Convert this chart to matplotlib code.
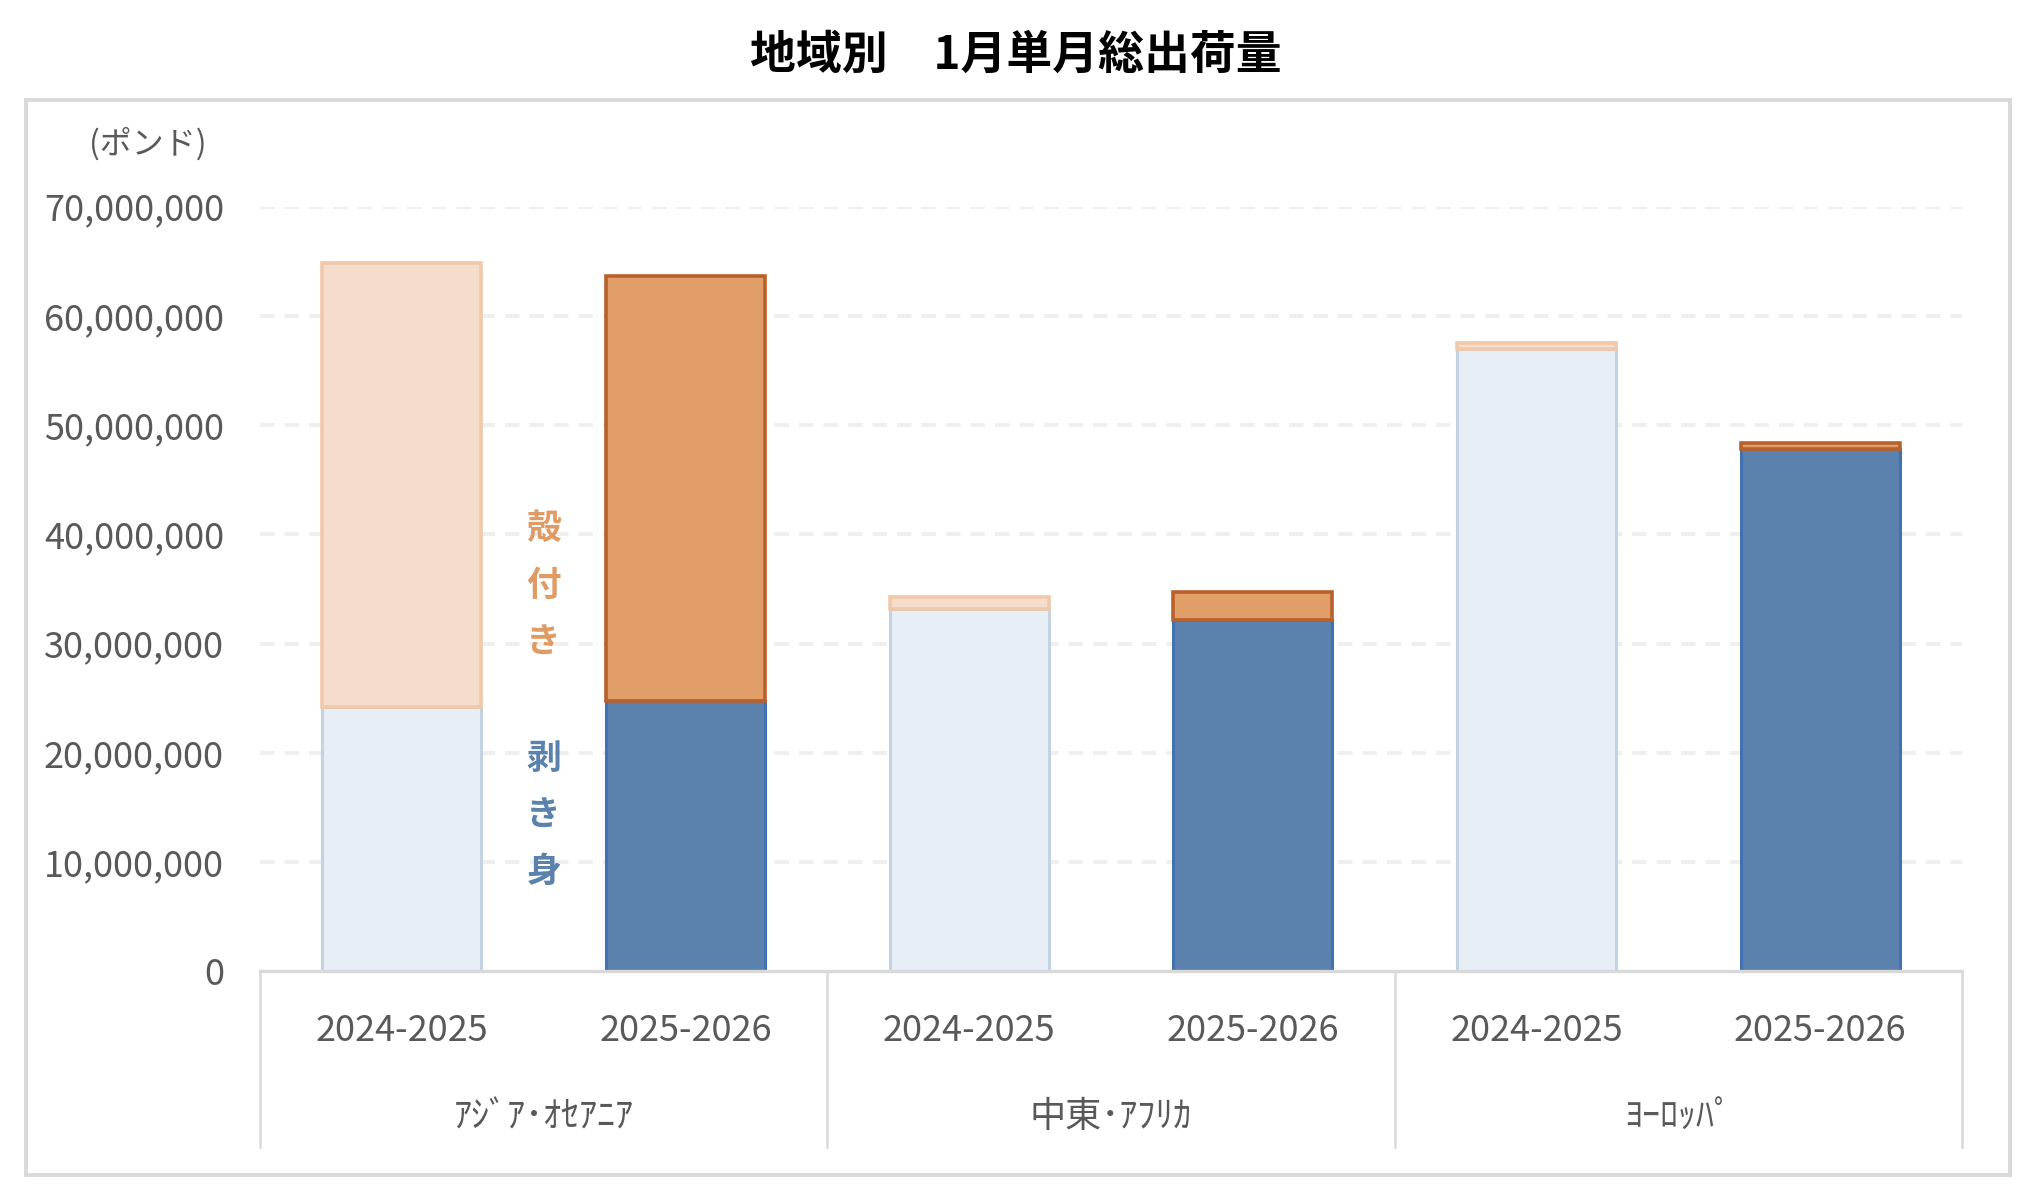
import numpy as np
import matplotlib
matplotlib.use("Agg")
import matplotlib.pyplot as plt
from matplotlib.patches import Rectangle
import matplotlib.transforms as mtransforms

plt.rcParams['font.family'] = ['Noto Sans CJK JP', 'DejaVu Sans']

# DATA (pounds)
regions = ['ｱｼﾞｱ･ｵｾｱﾆｱ', '中東･ｱﾌﾘｶ', 'ﾖｰﾛｯﾊﾟ']
seasons = ['2024-2025', '2025-2026']
fillet = [24200000, 24700000, 33200000, 32200000, 57000000, 47800000]   # 剥き身
shell = [40600000, 38900000, 1050000, 2550000, 500000, 600000]          # 殻付き
yticks = [0, 10000000, 20000000, 30000000, 40000000, 50000000, 60000000, 70000000]

# colours: light = last season, dark = this season
fillet_face = ['#e8eef5', '#5b81ad']
fillet_edge = ['#c4d3e1', '#4372b0']
shell_face = ['#f6dccb', '#e19e69']
shell_edge = ['#f0c9aa', '#b8612a']

fig = plt.figure(figsize=(20.36, 11.98), dpi=100)
ax = fig.add_axes([0.1277, 0.1892, 0.836, 0.6384])

x = np.arange(len(fillet))
season_idx = [i % 2 for i in range(len(fillet))]
w = 0.56
ax.bar(x, fillet, width=w,
       color=[fillet_face[s] for s in season_idx],
       edgecolor=[fillet_edge[s] for s in season_idx], linewidth=2.2, zorder=3)
ax.bar(x, shell, width=w, bottom=fillet,
       color=[shell_face[s] for s in season_idx],
       edgecolor=[shell_edge[s] for s in season_idx], linewidth=2.6, zorder=4)

ax.set_xlim(-0.5, len(fillet) - 0.5)
ax.set_ylim(0, 70000000)
ax.set_yticks(yticks)
ax.set_yticklabels(['{:,}'.format(v) for v in yticks])
ax.set_xticks(x)
ax.set_xticklabels([seasons[s] for s in season_idx])
ax.tick_params(axis='both', length=0, labelsize=26, colors='#595959')
ax.tick_params(axis='y', pad=26)
ax.tick_params(axis='x', pad=30)

# dashed grid
for v in yticks[1:]:
    ax.axhline(v, color='#efefef', lw=2.8, ls=(0, (3.7, 2.6)), zorder=1)

for sp in ['top', 'right', 'left']:
    ax.spines[sp].set_visible(False)
ax.spines['bottom'].set_color('#d9d9d9')
ax.spines['bottom'].set_linewidth(2.4)
ax.spines['bottom'].set_zorder(5)

# group separators and region labels below the axis
trans = mtransforms.blended_transform_factory(ax.transData, ax.transAxes)
for b in np.arange(-0.5, len(fillet), 2):
    ax.plot([b, b], [0, -0.23], transform=trans, color='#d9d9d9', lw=1.8, clip_on=False)
for i, r in enumerate(regions):
    ax.text(2 * i + 0.5, -0.191, r, transform=trans, ha='center', va='center',
            fontsize=26, color='#595959')

# in-chart labels
ax.text(0.5, 35300000, '殻\n付\nき', ha='center', va='center', fontsize=25,
        fontweight='bold', color='#e09b64', linespacing=1.78, zorder=6)
ax.text(0.5, 14300000, '剥\nき\n身', ha='center', va='center', fontsize=25,
        fontweight='bold', color='#5b81ad', linespacing=1.78, zorder=6)

fig.text(0.0727, 0.880, '(ポンド)', ha='center', va='center', fontsize=23, color='#595959')
fig.text(0.499, 0.953, '地域別　1月単月総出荷量', ha='center', va='center',
         fontsize=33, fontweight='bold', color='#000000')

# chart area frame
fig.patches.append(Rectangle((0.0128, 0.0192), 0.9745, 0.8973, transform=fig.transFigure,
                             fill=False, edgecolor='#d9d9d9', lw=2.8))

fig.savefig('out.png', dpi=100)
